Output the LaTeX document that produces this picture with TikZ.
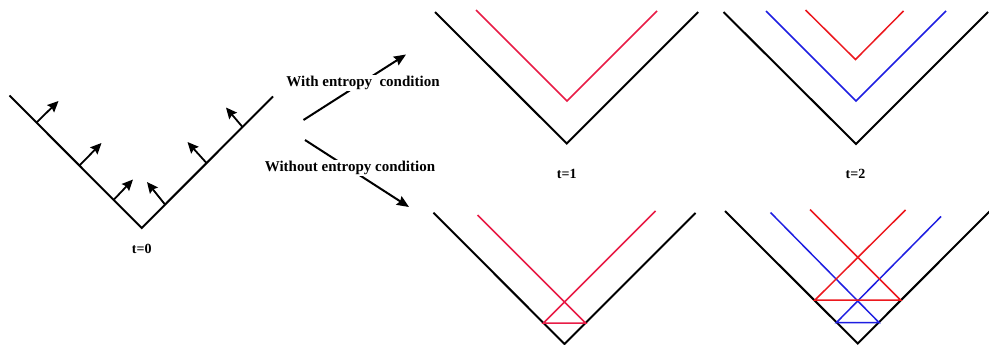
\documentclass[tikz,border=0pt]{standalone}
\usepackage{fontspec}
\setmainfont{Liberation Serif}
\usetikzlibrary{arrows.meta}
\definecolor{redA}{RGB}{232,28,70}
\definecolor{redB}{RGB}{236,24,30}
\definecolor{blueB}{RGB}{30,30,225}
\tikzset{
  wall/.style={draw=black, line width=2pt, line join=miter},
  redln/.style={draw=redA, line width=1.5pt},
  redln2/.style={draw=redB, line width=1.5pt},
  blueln/.style={draw=blueB, line width=1.5pt},
  vel/.style={draw=black, line width=1.8pt, -{Stealth[length=11pt,width=10pt,inset=1.5pt]}},
  bigarr/.style={draw=black, line width=2pt, -{Stealth[length=12pt,width=10pt,inset=1.5pt]}},
  cond/.style={font=\fontsize{15}{18}\selectfont\bfseries, fill=white, inner sep=1pt},
  tlbl/.style={font=\fontsize{14}{16}\selectfont\bfseries, inner sep=1pt}
}
\begin{document}
\begin{tikzpicture}[x=1pt,y=-1pt]
\useasboundingbox (0,0) rectangle (989,345);
\fill[white] (0,0) rectangle (989,345);

% ---------- t=0 : initial V with velocity arrows ----------
\coordinate (L0) at (9.5,95.5);
\coordinate (V0) at (141.7,228);
\coordinate (R0) at (273,96.5);
\draw[wall] (L0) -- (V0) -- (R0);
\coordinate (a1) at (36.5,122.5); \coordinate (a1t) at (58.5,101);
\coordinate (a2) at (79.5,165.5); \coordinate (a2t) at (101.5,143);
\coordinate (a3) at (114,199.5);  \coordinate (a3t) at (133,179.5);
\coordinate (a4) at (165,204.5);  \coordinate (a4t) at (147,182);
\coordinate (a5) at (206.5,163);  \coordinate (a5t) at (187.5,142);
\coordinate (a6) at (242.5,127);  \coordinate (a6t) at (226,107.5);
\draw[vel] (a1) -- (a1t);
\draw[vel] (a2) -- (a2t);
\draw[vel] (a3) -- (a3t);
\draw[vel] (a4) -- (a4t);
\draw[vel] (a5) -- (a5t);
\draw[vel] (a6) -- (a6t);
\node[tlbl] (t0) at (141.7,248.5) {t=0};

% ---------- branching arrows ----------
\coordinate (u0) at (303.5,120);
\coordinate (u1) at (406,54.5);
\draw[bigarr] (u0) -- (u1);
\node[cond] (with) at (363,83.3) {With entropy\ \ condition};
\coordinate (d0) at (305,140);
\coordinate (d1) at (409,207);
\draw[bigarr] (d0) -- (d1);
\node[cond] (without) at (350,168.3) {Without entropy condition};

% ---------- t=1, with entropy ----------
\coordinate (L1) at (435,12);
\coordinate (V1) at (566.7,143.5);
\coordinate (R1) at (698.2,12);
\draw[wall] (L1) -- (V1) -- (R1);
\coordinate (rL1) at (476,10);
\coordinate (rV1) at (567,101);
\coordinate (rR1) at (657,11);
\draw[redln] (rL1) -- (rV1) -- (rR1);
\node[tlbl] (t1) at (566.7,173.5) {t=1};

% ---------- t=2, with entropy ----------
\coordinate (L2) at (723.5,12);
\coordinate (V2) at (856,144);
\coordinate (R2) at (988,12);
\draw[wall] (L2) -- (V2) -- (R2);
\coordinate (bL2) at (766,11);
\coordinate (bV2) at (856,101);
\coordinate (bR2) at (946,11);
\draw[blueln] (bL2) -- (bV2) -- (bR2);
\coordinate (rL2) at (805.5,10);
\coordinate (rV2) at (855.5,59.5);
\coordinate (rR2) at (903.5,11);
\draw[redln2] (rL2) -- (rV2) -- (rR2);
\node[tlbl] (t2) at (855.5,173.5) {t=2};

% ---------- t=1, without entropy ----------
\coordinate (L3) at (433.5,212.7);
\coordinate (V3) at (564.5,344);
\coordinate (R3) at (695.5,213);
\draw[wall] (L3) -- (V3) -- (R3);
\coordinate (p3l) at (543.5,323);
\coordinate (p3r) at (585.5,323);
\coordinate (e3l) at (477.5,215);
\coordinate (e3r) at (655.5,211);
\draw[redln] (e3l) -- (p3r) -- (p3l) -- (e3r);

% ---------- t=2, without entropy ----------
\coordinate (L4) at (725,211);
\coordinate (V4) at (857.7,343.5);
\coordinate (R4) at (990,211);
\draw[wall] (L4) -- (V4) -- (R4);
\coordinate (p4bl) at (836.5,322.5);
\coordinate (p4br) at (879,322.5);
\coordinate (e4bl) at (770.5,212.5);
\coordinate (e4br) at (941,216.5);
\draw[blueln] (e4bl) -- (p4br) -- (p4bl) -- (e4br);
\coordinate (p4rl) at (815,300);
\coordinate (p4rr) at (900.5,300);
\coordinate (e4rl) at (810,209.5);
\coordinate (e4rr) at (905.5,210);
\draw[redln2] (e4rl) -- (p4rr) -- (p4rl) -- (e4rr);
\end{tikzpicture}
\end{document}
